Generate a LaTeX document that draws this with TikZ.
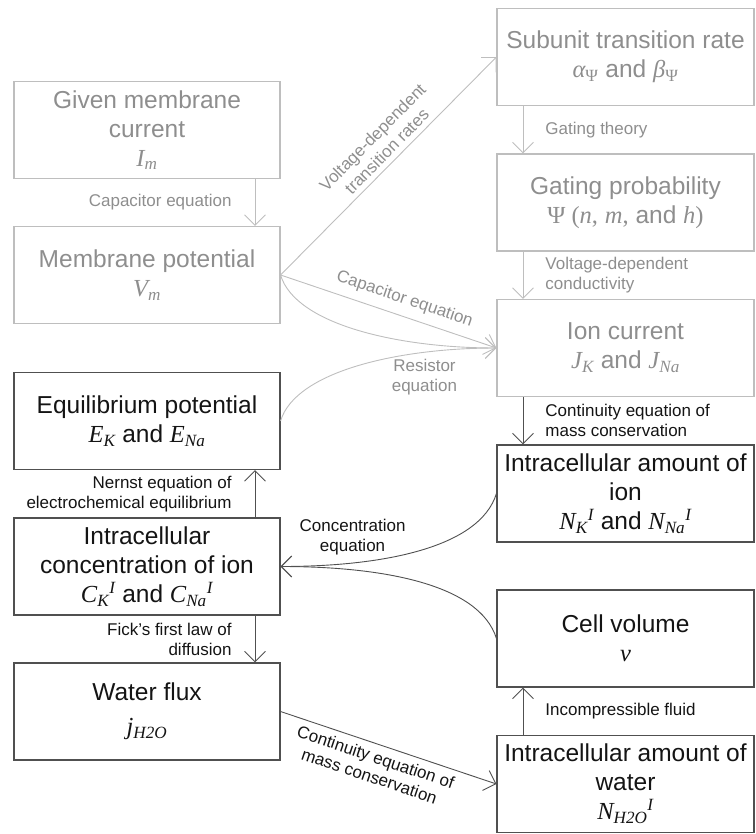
\documentclass[tikz,border=0pt]{standalone}
\usepackage{fontspec}
\setmainfont{Liberation Sans}
\newfontfamily\varfont{Liberation Serif}
\usepackage{xcolor}
\definecolor{cFaint}{HTML}{BEBEBE}
\definecolor{cFaintText}{HTML}{8E8E8E}
\definecolor{cDark}{HTML}{505050}
\definecolor{cInk}{HTML}{141414}
\usetikzlibrary{arrows.meta,calc}
\newcommand\vv[1]{{\varfont\itshape #1}}
\newcommand\vsub[2]{\vv{#1}\textsubscript{\vv{#2}}}
\newcommand\vsubsup[3]{\vsub{#1}{#2}\textsuperscript{\vv{#3}}}
\tikzset{
  node-box/.style={draw=cDark,line width=1.1pt,minimum height=97pt,inner sep=0pt,
    align=center,text=cInk,font={\fontsize{24.5}{29}\selectfont}},
  node-left/.style={node-box,minimum width=266pt},
  node-right/.style={node-box,minimum width=257pt},
  node-faint/.style={draw=cFaint,text=cFaintText},
  arrow/.style={-{Straight Barb[length=10.5pt,width=21pt]},line width=0.9pt,draw=cDark},
  arrow-faint/.style={arrow,draw=cFaint},
  edge-label/.style={font={\fontsize{17}{20}\selectfont},text=cInk,inner sep=2pt},
  edge-label-faint/.style={edge-label,text=cFaintText},
}
\begin{document}
\begin{tikzpicture}[x=1pt,y=1pt]
  \useasboundingbox (0,0) rectangle (755,-834);
  % left column
  \node[node-left,node-faint] (Im) at (147,-130) {Given membrane\\current\\\vsub{I}{m}};
  \node[node-left,node-faint] (Vm) at (147,-275) {Membrane potential\\\vsub{V}{m}};
  \node[node-left] (Eq) at (147,-421) {Equilibrium potential\\\vsub{E}{K} and \vsub{E}{Na}};
  \node[node-left] (Conc) at (147,-566.5)
    {Intracellular\\concentration of ion\\\vsubsup{C}{K}{I} and \vsubsup{C}{Na}{I}};
  \node[node-left] (Flux) at (147,-711.5) {Water flux\\[5pt]\vsub{j}{H2O}};
  % right column
  \node[node-right,node-faint] (Rate) at (625.5,-57)
    {Subunit transition rate\\\vv{α}\textsubscript{\varfont Ψ} and \vv{β}\textsubscript{\varfont Ψ}};
  \node[node-right,node-faint] (Gate) at (625.5,-202.5)
    {Gating probability\\{\varfont Ψ (}\vv{n}{\varfont ,} \vv{m}{\varfont ,} and \vv{h}{\varfont )}};
  \node[node-right,node-faint] (Ion) at (625.5,-348) {Ion current\\\vsub{J}{K} and \vsub{J}{Na}};
  \node[node-right] (NIon) at (625.5,-493.5)
    {Intracellular amount of\\ion\\\vsubsup{N}{K}{I} and \vsubsup{N}{Na}{I}};
  \node[node-right] (Vol) at (625.5,-638.5) {Cell volume\\\vv{v}};
  \node[node-right] (NWater) at (625.5,-784) {Intracellular amount of\\water\\\vsubsup{N}{H2O}{I}};
  \coordinate (colL) at (255,0);
  \coordinate (colR) at (523,0);

  % membrane part (faint)
  \draw[arrow-faint] (Im.south -| colL) -- node[edge-label-faint,left=21pt]{Capacitor equation} (Vm.north -| colL);
  \draw[arrow-faint] (Vm.east) -- node[edge-label-faint,sloped,above=3pt,pos=0.53,align=center]
    {Voltage-dependent\\transition rates} (Rate.west);
  \draw[arrow-faint] (Rate.south -| colR) -- node[edge-label-faint,right=20pt]{Gating theory} (Gate.north -| colR);
  \draw[arrow-faint] (Gate.south -| colR) -- node[edge-label-faint,right=20pt,align=left]
    {Voltage-dependent\\conductivity} (Ion.north -| colR);
  \draw[arrow-faint] (Vm.east) -- node[edge-label-faint,sloped,above=6pt,pos=0.55]{Capacitor equation} (Ion.west);
  \draw[arrow-faint] (Vm.east) .. controls +(15,-50) and +(-97,0) .. (Ion.west);
  \draw[arrow-faint] (Eq.east) .. controls +(15,50) and +(-97,0) .. (Ion.west);
  \node[edge-label-faint,align=center] (lblR) at ($(Ion.west)+(-72,-29)$) {Resistor\\equation};

  % ion and water part
  \draw[arrow] (Ion.south -| colR) -- node[edge-label,right=20pt,align=left]
    {Continuity equation of\\mass conservation} (NIon.north -| colR);
  \draw[arrow] (NIon.west) .. controls +(-17,-55) and +(100,0) .. (Conc.east);
  \draw[arrow] (Vol.west) .. controls +(-17,55) and +(100,0) .. (Conc.east);
  \node[edge-label,align=center] (lblC) at ($(Conc.east)+(72,29)$) {Concentration\\equation};
  \draw[arrow] (Conc.north -| colL) -- node[edge-label,left=21pt,align=right]
    {Nernst equation of\\electrochemical equilibrium} (Eq.south -| colL);
  \draw[arrow] (Conc.south -| colL) -- node[edge-label,left=21pt,align=right]
    {Fick’s first law of\\diffusion} (Flux.north -| colL);
  \draw[arrow] (Flux.east) -- node[edge-label,sloped,below=4pt,pos=0.46,align=center]
    {Continuity equation of\\mass conservation} (NWater.west);
  \draw[arrow] (NWater.north -| colR) -- node[edge-label,right=20pt]{Incompressible fluid} (Vol.south -| colR);
\end{tikzpicture}
\end{document}
